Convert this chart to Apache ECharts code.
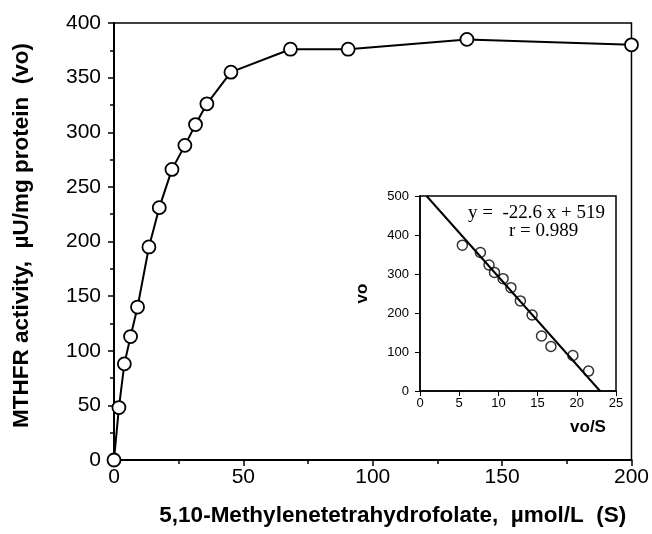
<!DOCTYPE html>
<html>
<head>
<meta charset="utf-8">
<script src="https://cdn.jsdelivr.net/npm/echarts@6/dist/echarts.min.js"></script>
<style>
  html, body { margin: 0; padding: 0; background: #fff; }
  #chart { width: 652px; height: 534px; }
</style>
</head>
<body>
<div id="chart"></div>
<script>
// main plot: substrate concentration vs activity
const substrate = [0, 1.9, 4.0, 6.4, 9.1, 13.5, 17.5, 22.4, 27.4, 31.5, 35.9, 45.2, 68.2, 90.5, 136.4, 200];
const activity = [0, 48, 88, 113, 140, 195, 231, 266, 288, 307, 326, 355, 376, 376, 385, 380];

// inset: Eadie-Hofstee plot
const voOverS = [5.4, 7.7, 8.8, 9.5, 10.6, 11.6, 12.8, 14.3, 15.5, 16.7, 19.5, 21.5];
const voInset = [374, 355, 323, 304, 288, 265, 231, 195, 141, 114, 91, 51];
const fitSlope = -22.6;
const fitIntercept = 519;
const fitR = 0.989;

const mainPoints = substrate.map((s, i) => [s, activity[i]]);
const insetPoints = voOverS.map((x, i) => [x, voInset[i]]);
// regression line from y=500 down to y=0
const fitLine = [
  [(500 - fitIntercept) / fitSlope, 500],
  [(0 - fitIntercept) / fitSlope, 0]
];

const chart = echarts.init(document.getElementById('chart'));

const sans = 'Liberation Sans, Arial, sans-serif';
const serif = 'Liberation Serif, Times New Roman, serif';

const option = {
  backgroundColor: '#fff',
  animation: false,
  grid: [
    {
      left: 114, top: 23, width: 518, height: 437,
      show: true, borderColor: '#000', borderWidth: 1.5, backgroundColor: 'transparent'
    },
    {
      left: 420, top: 196, width: 196, height: 195,
      show: true, borderColor: '#000', borderWidth: 1.5, backgroundColor: '#fff'
    }
  ],
  xAxis: [
    {
      gridIndex: 0, type: 'value', min: 0, max: 200, interval: 50,
      name: '5,10-Methylenetetrahydrofolate,  µmol/L  (S)',
      nameLocation: 'middle', nameGap: 44,
      nameTextStyle: { fontFamily: sans, fontWeight: 'bold', fontSize: 22.5, color: '#000', padding: [0, 0, 0, 40] },
      axisLine: { show: true, lineStyle: { color: '#000', width: 2 } },
      axisTick: { show: true, length: 6, lineStyle: { color: '#000', width: 1.5 } },
      minorTick: { show: true, splitNumber: 2, length: 4, lineStyle: { color: '#000', width: 1.5 } },
      axisLabel: { fontFamily: sans, fontSize: 21, color: '#000', margin: 7 },
      splitLine: { show: false }
    },
    {
      gridIndex: 1, type: 'value', min: 0, max: 25, interval: 5,
      name: 'vo/S',
      nameLocation: 'middle', nameGap: 28,
      nameTextStyle: { fontFamily: sans, fontWeight: 'bold', fontSize: 17, color: '#000', padding: [0, 0, 0, 140] },
      axisLine: { show: true, lineStyle: { color: '#000', width: 1.5 } },
      axisTick: { show: true, length: 5, lineStyle: { color: '#000', width: 1 } },
      axisLabel: { fontFamily: sans, fontSize: 13, color: '#000', margin: 6 },
      splitLine: { show: false }
    }
  ],
  yAxis: [
    {
      gridIndex: 0, type: 'value', min: 0, max: 400, interval: 50,
      name: 'MTHFR activity,  µU/mg protein  (vo)',
      nameLocation: 'middle', nameGap: 81,
      nameTextStyle: { fontFamily: sans, fontWeight: 'bold', fontSize: 22.5, color: '#000', padding: [0, 0, 0, 12] },
      axisLine: { show: true, lineStyle: { color: '#000', width: 2 } },
      axisTick: { show: true, length: 6, lineStyle: { color: '#000', width: 1.5 } },
      minorTick: { show: true, splitNumber: 2, length: 4, lineStyle: { color: '#000', width: 1.5 } },
      axisLabel: { fontFamily: sans, fontSize: 21, color: '#000', margin: 13 },
      splitLine: { show: false }
    },
    {
      gridIndex: 1, type: 'value', min: 0, max: 500, interval: 100,
      name: 'vo',
      nameLocation: 'middle', nameGap: 49,
      nameTextStyle: { fontFamily: sans, fontWeight: 'bold', fontSize: 17, color: '#000' },
      axisLine: { show: true, lineStyle: { color: '#000', width: 1.5 } },
      axisTick: { show: true, length: 5, lineStyle: { color: '#000', width: 1 } },
      axisLabel: { fontFamily: sans, fontSize: 13, color: '#000', margin: 11 },
      splitLine: { show: false }
    }
  ],
  series: [
    {
      type: 'line', xAxisIndex: 0, yAxisIndex: 0,
      data: mainPoints,
      clip: false,
      symbol: 'circle', symbolSize: 13, showAllSymbol: true,
      lineStyle: { color: '#000', width: 2 },
      itemStyle: { color: '#fff', borderColor: '#000', borderWidth: 1.8 },
      z: 3
    },
    {
      type: 'line', xAxisIndex: 1, yAxisIndex: 1,
      data: fitLine,
      symbol: 'none',
      lineStyle: { color: '#000', width: 2 },
      z: 3
    },
    {
      type: 'scatter', xAxisIndex: 1, yAxisIndex: 1,
      data: insetPoints,
      symbol: 'circle', symbolSize: 10,
      itemStyle: { color: 'transparent', borderColor: '#000', borderWidth: 1.5 },
      z: 4
    }
  ],
  graphic: [
    {
      type: 'text', left: 468, top: 204, z: 10,
      style: { text: 'y =  ' + fitSlope + ' x + ' + fitIntercept, fontFamily: serif, fontSize: 19, fill: '#000' }
    },
    {
      type: 'text', left: 509, top: 222, z: 10,
      style: { text: 'r = ' + fitR, fontFamily: serif, fontSize: 19, fill: '#000' }
    }
  ]
};

chart.setOption(option);
</script>
</body>
</html>
